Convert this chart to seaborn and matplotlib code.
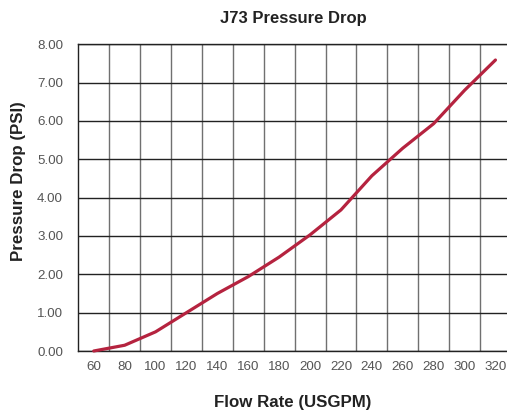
import matplotlib
matplotlib.use("Agg")
import matplotlib.pyplot as plt
import seaborn as sns
import pandas as pd
import numpy as np

flow_rate = ["60", "80", "100", "120", "140", "160", "180", "200",
             "220", "240", "260", "280", "300", "320"]
pressure_drop = [0.00, 0.15, 0.50, 1.00, 1.50, 1.94, 2.45, 3.03,
                 3.68, 4.57, 5.29, 5.93, 6.80, 7.59]
y_ticks = [0, 1, 2, 3, 4, 5, 6, 7, 8]

df = pd.DataFrame({"Flow": flow_rate, "PSI": pressure_drop})

sns.set_theme(style="white")
plt.rcParams["font.family"] = ["Liberation Sans", "DejaVu Sans"]

fig = plt.figure(figsize=(5.07, 4.12), dpi=100)
ax = fig.add_axes([78.3 / 507, 61 / 412, 432.6 / 507, 306.7 / 412])

sns.lineplot(data=df, x="Flow", y="PSI", ax=ax, color="#B5233F",
             linewidth=2.3, sort=False, zorder=5, clip_on=False)

n = len(flow_rate)
ax.set_xlim(-0.5, n - 0.5)
ax.set_ylim(0, 8)
ax.set_yticks(y_ticks)
ax.set_yticklabels([f"{v:.2f}" for v in y_ticks])
ax.set_xticks(range(n))
ax.set_xticklabels(flow_rate)
ax.set_xticks(np.arange(0.5, n - 0.5, 1), minor=True)

ax.grid(False)
ax.yaxis.grid(True, which="major", color="#222222", linewidth=1.0)
ax.xaxis.grid(True, which="minor", color="#707070", linewidth=1.0)
ax.set_axisbelow(True)

ax.spines["right"].set_visible(False)
for s in ["top", "left", "bottom"]:
    ax.spines[s].set_color("#222222")
    ax.spines[s].set_linewidth(1.0)

ax.tick_params(axis="x", which="both", length=0, pad=7,
               labelsize=9.6, labelcolor="#555555")
ax.tick_params(axis="y", which="both", length=0, pad=11,
               labelsize=9.6, labelcolor="#555555")

ax.set_xlabel("")
ax.set_ylabel("")
fig.text(293 / 507, 1 - 18 / 412, "J73 Pressure Drop", ha="center",
         va="center", fontsize=12, fontweight="bold", color="#222222")
fig.text(293 / 507, 1 - 402 / 412, "Flow Rate (USGPM)", ha="center",
         va="center", fontsize=12.2, fontweight="bold", color="#222222")
fig.text(19 / 507, 1 - 181 / 412, "Pressure Drop (PSI)", ha="center",
         va="center", rotation=90, fontsize=12.2, fontweight="bold",
         color="#222222")

fig.savefig("out.png", dpi=100)
